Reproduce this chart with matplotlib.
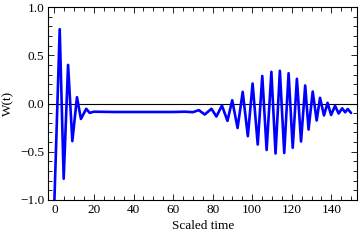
import numpy as np
import matplotlib
matplotlib.use("Agg")
import matplotlib.pyplot as plt
from matplotlib.ticker import MultipleLocator

# W(t): start, turning points and the flat stretch
t_vals = [0, 2.67, 4.68, 6.9, 9.06, 11.4, 13.4, 16.1, 17.8, 20,
          30, 40, 50, 60, 66, 70,
          73.0, 76.0, 79.4, 81.9, 84.7, 87.5, 89.9, 92.6, 95.2, 97.8,
          100.2, 102.8, 105.1, 107.3, 109.7, 111.8, 114.0, 116.2, 118.4, 120.5,
          122.6, 124.7, 126.8, 128.5, 130.6, 132.6, 134.3, 136.3, 138.1, 139.9,
          141.9, 143.7, 145.5, 147.0, 148.3, 150]
w_vals = [-1.0, 0.77, -0.78, 0.40, -0.39, 0.065, -0.16, -0.055, -0.097, -0.085,
          -0.088, -0.088, -0.088, -0.088, -0.085, -0.09,
          -0.069, -0.114, -0.055, -0.135, -0.021, -0.18, 0.034, -0.254, 0.121, -0.339,
          0.207, -0.425, 0.285, -0.482, 0.328, -0.518, 0.339, -0.513, 0.314, -0.459,
          0.256, -0.394, 0.187, -0.27, 0.124, -0.176, 0.059, -0.124, 0.007, -0.119,
          -0.024, -0.104, -0.05, -0.091, -0.057, -0.098]

x_ticks = [0, 20, 40, 60, 80, 100, 120, 140]
y_ticks = [-1.0, -0.5, 0.0, 0.5, 1.0]

plt.rcParams['font.family'] = ['Liberation Serif', 'DejaVu Serif']

fig = plt.figure(figsize=(3.6, 2.4), dpi=100)
ax = fig.add_axes([0.1347, 0.1667, 0.8570, 0.8041])

ax.axhline(0, color='black', lw=0.8, zorder=1)
ax.plot(t_vals, w_vals, color='#0000ff', lw=1.9, solid_joinstyle='round',
        solid_capstyle='round', zorder=2)

ax.set_xlim(-3, 153)
ax.set_ylim(-1, 1)
ax.set_xticks(x_ticks)
ax.set_yticks(y_ticks)
ax.set_yticklabels(["\u22121.0", "\u22120.5", "0.0", "0.5", "1.0"])
ax.xaxis.set_minor_locator(MultipleLocator(5))
ax.yaxis.set_minor_locator(MultipleLocator(0.1))
ax.tick_params(which='both', direction='in', top=True, right=True,
               width=0.6, labelsize=9.5, pad=3)
ax.tick_params(which='major', length=4.5)
ax.tick_params(which='minor', length=2.8)
for s in ax.spines.values():
    s.set_linewidth(0.8)

ax.set_xlabel("Scaled time", fontsize=9.5, labelpad=3)
ax.set_ylabel("W(t)", fontsize=9.5, labelpad=4)

fig.savefig("out.png", dpi=100)
